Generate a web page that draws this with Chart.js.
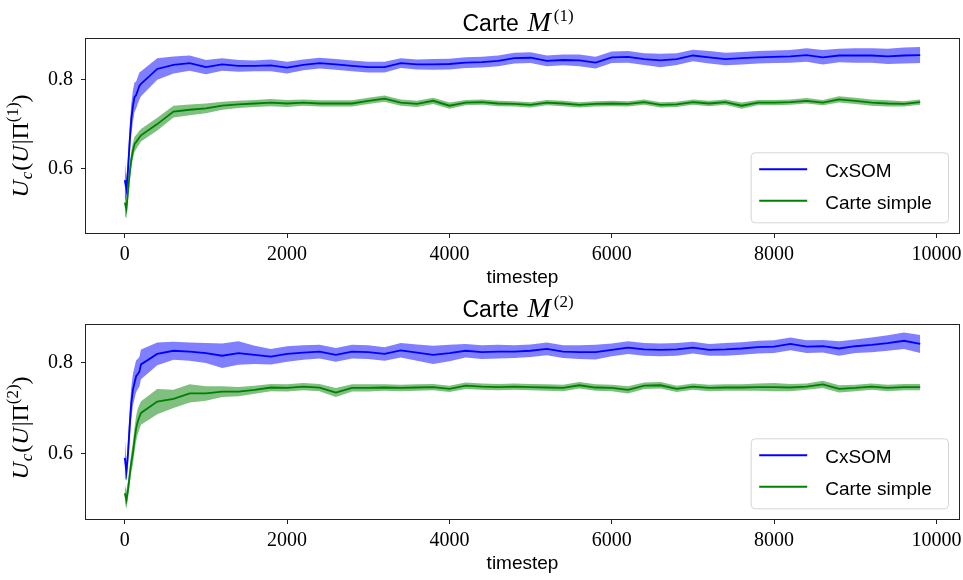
<!DOCTYPE html>
<html><head><meta charset="utf-8">
<script src="https://cdn.jsdelivr.net/npm/chart.js@4.4.0/dist/chart.umd.min.js"></script>
<style>
html,body{margin:0;padding:0;background:#fff;}
#wrap{position:relative;width:963px;height:580px;background:#fff;}
.box{position:absolute;left:0;width:963px;height:290px;}
</style></head><body>
<div id="wrap">
<div class="box" style="top:0"><canvas id="c1" width="963" height="290"></canvas></div>
<div class="box" style="top:290px"><canvas id="c2" width="963" height="290"></canvas></div>
</div>
<script>
const timesteps = [0,20,40,60,80,100,120,140,160,180,200,400,600,800,1000,1200,1400,1600,1800,2000,2200,2400,2600,2800,3000,3200,3400,3600,3800,4000,4200,4400,4600,4800,5000,5200,5400,5600,5800,6000,6200,6400,6600,6800,7000,7200,7400,7600,7800,8000,8200,8400,8600,8800,9000,9200,9400,9600,9800];

const cxsom1Mean = [0.575,0.555,0.60,0.66,0.71,0.74,0.76,0.765,0.775,0.785,0.79,
 0.823,0.832,0.836,0.827,0.833,0.830,0.830,0.831,0.826,
 0.832,0.836,0.833,0.830,0.827,0.827,0.836,0.833,0.833,0.834,
 0.837,0.838,0.841,0.847,0.848,0.841,0.843,0.842,0.837,0.849,
 0.850,0.845,0.842,0.845,0.853,0.849,0.845,0.847,0.849,0.850,
 0.851,0.854,0.849,0.853,0.853,0.853,0.851,0.853,0.854];
const cxsom1Std = [0.045,0.02,0.03,0.035,0.035,0.035,0.033,0.03,0.03,0.03,0.028,
 0.024,0.019,0.017,0.016,0.014,0.013,0.012,0.013,0.013,
 0.012,0.012,0.012,0.012,0.012,0.012,0.011,0.011,0.012,0.012,
 0.012,0.012,0.012,0.012,0.012,0.012,0.012,0.013,0.013,0.013,
 0.013,0.013,0.015,0.013,0.013,0.014,0.014,0.014,0.014,0.014,
 0.014,0.015,0.016,0.015,0.016,0.016,0.017,0.018,0.018];
const simple1Mean = [0.525,0.51,0.55,0.59,0.62,0.64,0.655,0.66,0.665,0.67,0.675,
 0.700,0.728,0.732,0.735,0.741,0.744,0.746,0.748,0.746,
 0.748,0.746,0.746,0.746,0.752,0.757,0.748,0.745,0.752,0.741,
 0.748,0.749,0.746,0.745,0.743,0.748,0.746,0.743,0.745,0.746,
 0.745,0.749,0.743,0.744,0.749,0.746,0.749,0.741,0.748,0.748,
 0.749,0.752,0.748,0.755,0.752,0.748,0.746,0.745,0.749];
const simple1Std = [0.03,0.02,0.02,0.02,0.02,0.018,0.017,0.016,0.015,0.015,0.014,
 0.014,0.013,0.012,0.011,0.009,0.008,0.008,0.008,0.008,
 0.007,0.007,0.007,0.007,0.007,0.007,0.007,0.007,0.007,0.007,
 0.006,0.006,0.006,0.006,0.006,0.006,0.006,0.006,0.006,0.006,
 0.006,0.006,0.006,0.006,0.006,0.006,0.006,0.007,0.006,0.006,
 0.006,0.006,0.006,0.007,0.007,0.007,0.007,0.006,0.006];

const cxsom2Mean = [0.59,0.56,0.60,0.66,0.71,0.74,0.755,0.77,0.775,0.78,0.796,
 0.819,0.826,0.824,0.821,0.815,0.821,0.817,0.813,0.819,
 0.822,0.824,0.817,0.824,0.823,0.819,0.827,0.822,0.817,0.821,
 0.826,0.823,0.824,0.824,0.826,0.830,0.824,0.823,0.823,0.828,
 0.833,0.829,0.828,0.829,0.833,0.828,0.829,0.831,0.834,0.835,
 0.841,0.835,0.836,0.831,0.836,0.839,0.843,0.848,0.841];
const cxsom2Std = [0.045,0.02,0.03,0.035,0.035,0.035,0.035,0.035,0.033,0.033,0.033,
 0.025,0.02,0.02,0.022,0.027,0.026,0.02,0.017,0.017,
 0.016,0.015,0.015,0.015,0.015,0.015,0.016,0.018,0.02,0.018,
 0.015,0.015,0.015,0.014,0.014,0.014,0.014,0.015,0.016,0.014,
 0.014,0.014,0.014,0.014,0.013,0.013,0.014,0.014,0.014,0.014,
 0.014,0.014,0.014,0.016,0.015,0.016,0.017,0.018,0.02];
const simple2Mean = [0.512,0.497,0.52,0.55,0.58,0.60,0.63,0.655,0.67,0.68,0.689,
 0.714,0.720,0.732,0.732,0.736,0.736,0.740,0.745,0.744,
 0.747,0.745,0.734,0.744,0.744,0.745,0.744,0.745,0.746,0.742,
 0.749,0.747,0.746,0.747,0.746,0.745,0.744,0.750,0.745,0.744,
 0.740,0.749,0.750,0.742,0.747,0.744,0.745,0.745,0.746,0.746,
 0.745,0.747,0.752,0.742,0.744,0.747,0.744,0.746,0.746];
const simple2Std = [0.02,0.02,0.02,0.02,0.022,0.025,0.027,0.028,0.028,0.027,0.026,
 0.028,0.02,0.02,0.016,0.012,0.01,0.009,0.008,0.008,
 0.008,0.008,0.01,0.008,0.008,0.007,0.007,0.007,0.007,0.007,
 0.007,0.007,0.007,0.007,0.007,0.007,0.007,0.007,0.007,0.007,
 0.008,0.007,0.007,0.007,0.007,0.007,0.007,0.007,0.008,0.009,
 0.008,0.007,0.008,0.008,0.007,0.007,0.007,0.007,0.007];

const xTicks = [0,2000,4000,6000,8000,10000];
const yTicks = [0.6,0.8];
const seriesNames = ['CxSOM','Carte simple'];
const mapIndices = ['(1)','(2)'];
const xLabel = 'timestep';

const FS = "'Liberation Sans', Arial, sans-serif";
const FR = "'Liberation Serif', 'Times New Roman', serif";
const BLUE = '#0000ff', GREEN = '#008000';
const BLUE_A = 'rgba(0,0,255,0.5)', GREEN_A = 'rgba(0,128,0,0.5)';

function band(mean, std, sign){ return timesteps.map((t,i)=>({x:t, y: mean[i] + sign*std[i]})); }
function line(mean){ return timesteps.map((t,i)=>({x:t, y: mean[i]})); }

function drawParts(ctx, parts, x, y){
  let cx = x;
  for(const p of parts){
    ctx.font = p.f;
    ctx.fillText(p.t, cx, y + (p.dy||0));
    cx += ctx.measureText(p.t).width + (p.sp||0);
  }
}
function partsWidth(ctx, parts){
  let w=0; for(const p of parts){ ctx.font=p.f; w += ctx.measureText(p.t).width + (p.sp||0);} return w;
}

function decorPlugin(idx, ylabelShift){
  return {
    id:'decor'+idx,
    afterDraw(chart){
      const ctx = chart.ctx, a = chart.chartArea;
      ctx.save();
      // frame
      ctx.strokeStyle = '#222'; ctx.lineWidth = 1;
      ctx.strokeRect(Math.round(a.left)+0.5, Math.round(a.top)+0.5, Math.round(a.right-a.left)-1, Math.round(a.bottom-a.top)-1);
      ctx.fillStyle = '#000';
      ctx.textBaseline = 'alphabetic';
      ctx.textAlign = 'left';
      // title
      const cx = (a.left + a.right)/2;
      const ty = a.top - 7.5;
      ctx.font = `23px ${FS}`;
      ctx.fillText('Carte', cx - 60, ty);
      ctx.font = `italic 28px ${FR}`;
      ctx.fillText('M', cx + 5, ty);
      const mw = ctx.measureText('M').width;
      ctx.font = `17px ${FR}`;
      ctx.fillText(mapIndices[idx], cx + 5 + mw + 3, ty - 10);
      // x label
      ctx.font = `19px ${FS}`;
      ctx.textAlign = 'center';
      ctx.fillText(xLabel, cx, a.bottom + 49);
      ctx.textAlign = 'left';
      // y label (rotated)
      const parts = [
        {t:'U', f:`italic 24px ${FR}`, sp:1},
        {t:'c', f:`italic 17px ${FR}`, dy:4, sp:1},
        {t:'(', f:`24px ${FR}`},
        {t:'U', f:`italic 24px ${FR}`, sp:1},
        {t:'|', f:`24px ${FR}`},
        {t:'\u03A0', f:`24px ${FR}`},
        {t:mapIndices[idx], f:`17px ${FR}`, dy:-10},
        {t:')', f:`24px ${FR}`}
      ];
      const w = partsWidth(ctx, parts);
      ctx.save();
      ctx.translate(28, (a.top + a.bottom)/2 + ylabelShift);
      ctx.rotate(-Math.PI/2);
      drawParts(ctx, parts, -w/2, 0);
      ctx.restore();
      // legend
      const bx1 = a.right - 12, by1 = a.bottom - 11.7;
      const bx0 = bx1 - 197.3, by0 = by1 - 70;
      ctx.beginPath();
      ctx.roundRect(bx0+0.5, by0+0.5, bx1-bx0, by1-by0, 4);
      ctx.fillStyle = 'rgba(255,255,255,0.8)';
      ctx.fill();
      ctx.strokeStyle = 'rgba(204,204,204,0.8)';
      ctx.lineWidth = 1;
      ctx.stroke();
      const rows = [{c:BLUE, y:by0+17}, {c:GREEN, y:by0+48.4}];
      rows.forEach((r,i)=>{
        ctx.strokeStyle = r.c; ctx.lineWidth = 2;
        ctx.beginPath(); ctx.moveTo(bx0+8.5, r.y); ctx.lineTo(bx0+56.5, r.y); ctx.stroke();
        ctx.fillStyle = '#000';
        ctx.font = `19px ${FS}`;
        ctx.fillText(seriesNames[i], bx0+74.5, r.y + 8);
      });
      ctx.restore();
    }
  };
}

function makeChart(id, idx, cm, cs, sm, ss, yMin, yMax, padTop, xAxisH, ylabelShift){
  const datasets = [
    {data: line(cm), borderColor: BLUE, borderWidth: 1.8, fill:false, order:0},
    {data: line(sm), borderColor: GREEN, borderWidth: 1.8, fill:false, order:0},
    {data: band(cm, cs, 1), borderWidth:0, borderColor:'rgba(0,0,0,0)', backgroundColor: BLUE_A, fill:'+1', order:2},
    {data: band(cm, cs, -1), borderWidth:0, borderColor:'rgba(0,0,0,0)', fill:false, order:2},
    {data: band(sm, ss, 1), borderWidth:0, borderColor:'rgba(0,0,0,0)', backgroundColor: GREEN_A, fill:'+1', order:1},
    {data: band(sm, ss, -1), borderWidth:0, borderColor:'rgba(0,0,0,0)', fill:false, order:1}
  ];
  return new Chart(document.getElementById(id), {
    type:'line',
    data:{datasets},
    options:{
      responsive:false, animation:false, devicePixelRatio:1,
      layout:{padding:{left:0, right:3, top:padTop, bottom:0}},
      plugins:{legend:{display:false}, tooltip:{enabled:false}, title:{display:false}},
      elements:{point:{radius:0}, line:{tension:0}},
      scales:{
        x:{type:'linear', min:-490, max:10290,
          afterBuildTicks: s=>{ s.ticks = xTicks.map(v=>({value:v})); },
          afterFit: s=>{ s.height = xAxisH; s.paddingLeft = 0; s.paddingRight = 0; },
          grid:{display:true, drawOnChartArea:false, drawTicks:true, tickLength:4, tickColor:'#222', tickWidth:1},
          border:{display:false},
          ticks:{font:{family:FR, size:20}, color:'#000', padding:5, maxRotation:0, autoSkip:false, callback:v=>String(v)}
        },
        y:{type:'linear', min:yMin, max:yMax,
          afterBuildTicks: s=>{ s.ticks = yTicks.map(v=>({value:v})); },
          afterFit: s=>{ s.width = 85; s.paddingTop = 0; s.paddingBottom = 0; },
          grid:{display:true, drawOnChartArea:false, drawTicks:true, tickLength:4, tickColor:'#222', tickWidth:1},
          border:{display:false},
          ticks:{font:{family:FR, size:20}, color:'#000', padding:8, autoSkip:false, callback:v=>Number(v).toFixed(1)}
        }
      }
    },
    plugins:[decorPlugin(idx, ylabelShift)]
  });
}

makeChart('c1', 0, cxsom1Mean, cxsom1Std, simple1Mean, simple1Std, 0.455, 0.892, 38, 56, 10);
makeChart('c2', 1, cxsom2Mean, cxsom2Std, simple2Mean, simple2Std, 0.453, 0.885, 34, 60, 6);
</script>
</body></html>
